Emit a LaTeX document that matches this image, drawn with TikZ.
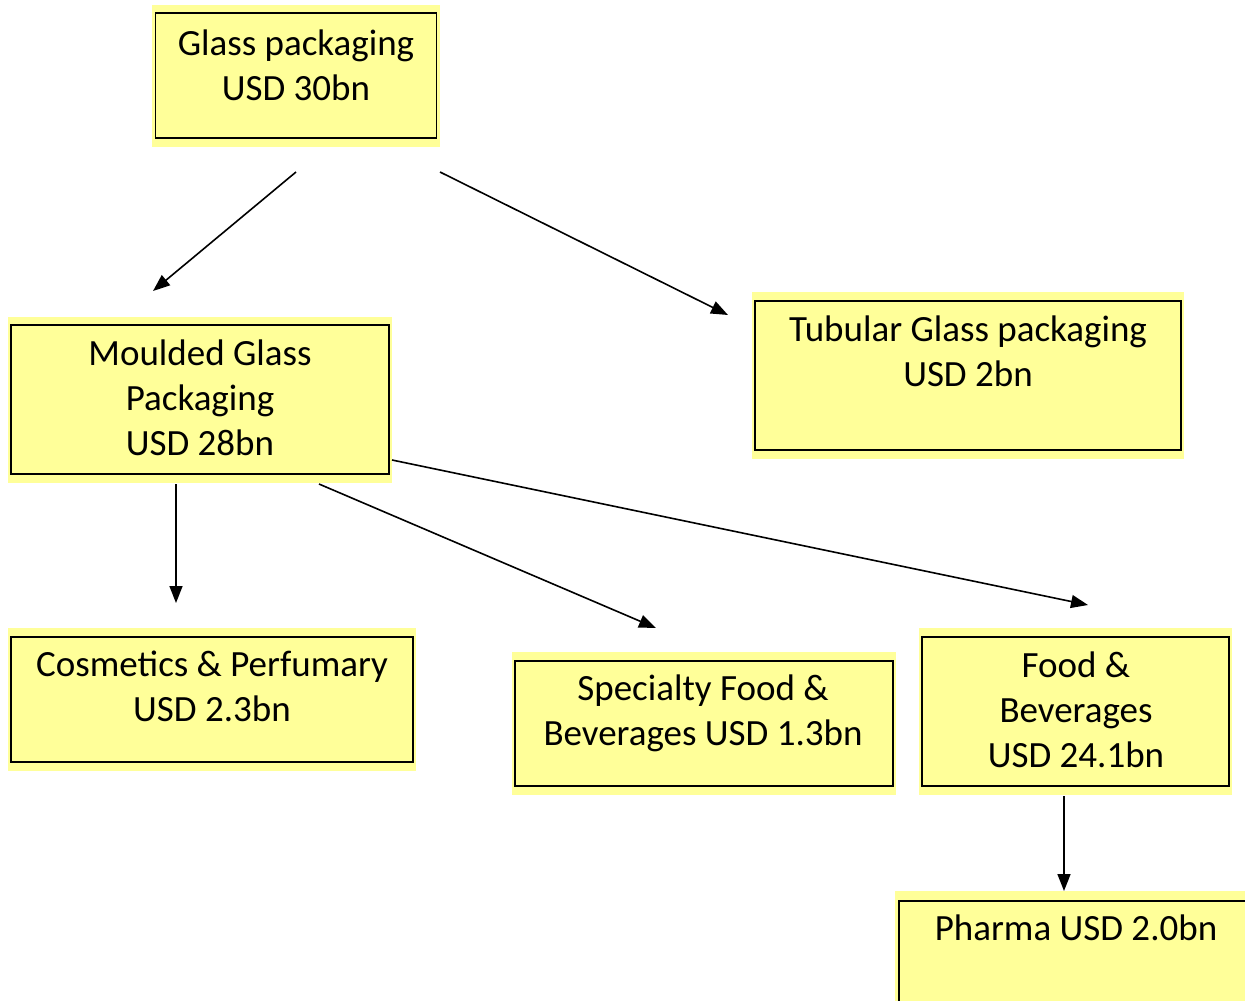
\documentclass[tikz,border=0pt]{standalone}
\usepackage{fontspec}
\setmainfont{Carlito}
\usetikzlibrary{arrows.meta}
\definecolor{boxyellow}{RGB}{255,255,153}
\tikzset{
  outerfill/.style={fill=boxyellow},
  box/.style={draw=black, line width=1.8pt, fill=boxyellow, rectangle, inner sep=0pt},
  txt/.style={align=center, anchor=base, inner sep=0pt, font=\fontsize{37}{45}\selectfont},
  arr/.style={line width=1.6pt, -{Triangle[length=17pt,width=13pt]}}
}
\begin{document}
\begin{tikzpicture}[x=1pt,y=-1pt]
\useasboundingbox (0,0) rectangle (1245,1001);
% outer pale areas
\fill[outerfill] (152,5) rectangle (440,147);
\fill[outerfill] (8,317) rectangle (392,483);
\fill[outerfill] (752,292) rectangle (1184,459);
\fill[outerfill] (8,628) rectangle (416,771);
\fill[outerfill] (512,652) rectangle (896,795);
\fill[outerfill] (919,628) rectangle (1232,795);
\fill[outerfill] (895,891) rectangle (1245,1001);
% boxes
\node[box, minimum width=281pt, minimum height=125pt] (glass) at (296,75.5) {};
\node[box, minimum width=378pt, minimum height=149pt] (moulded) at (200,399.5) {};
\node[box, minimum width=426pt, minimum height=149pt] (tubular) at (968,375.5) {};
\node[box, minimum width=402pt, minimum height=125pt] (cosm) at (212,699.5) {};
\node[box, minimum width=378pt, minimum height=125pt] (spec) at (704,723.5) {};
\node[box, minimum width=307pt, minimum height=149pt] (food) at (1075.5,711.5) {};
\draw[line width=1.8pt, fill=boxyellow] (1250,901) -- (899,901) -- (899,1006);
\coordinate (pharma) at (1072,901);
% texts (anchored at the baseline of the last line)
\node[txt] (tglass) at (296,100) {Glass packaging\\USD 30bn};
\node[txt] (tmoulded) at (200,455) {Moulded Glass\\Packaging\\USD 28bn};
\node[txt] (ttubular) at (968,386) {Tubular Glass packaging\\USD 2bn};
\node[txt] (tcosm) at (212,721) {Cosmetics \& Perfumary\\USD 2.3bn};
\node[txt] (tspec) at (703,745) {Specialty Food \&\\Beverages USD 1.3bn};
\node[txt] (tfood) at (1076,767) {Food \&\\Beverages\\USD 24.1bn};
\node[txt] (tpharma) at (1076,940) {Pharma USD 2.0bn};
% arrow ends
\coordinate (a1s) at (296,172); \coordinate (a1e) at (153,291);
\coordinate (a2s) at (440,172); \coordinate (a2e) at (728,315);
\coordinate (a3s) at (176,484); \coordinate (a3e) at (176,603);
\coordinate (a4s) at (319,484); \coordinate (a4e) at (656,628);
\coordinate (a5s) at (392,460); \coordinate (a5e) at (1088,605);
\coordinate (a6s) at (1064,796); \coordinate (a6e) at (1064,891);
\draw[arr] (a1s) -- (a1e);
\draw[arr] (a2s) -- (a2e);
\draw[arr] (a3s) -- (a3e);
\draw[arr] (a4s) -- (a4e);
\draw[arr] (a5s) -- (a5e);
\draw[arr] (a6s) -- (a6e);
\end{tikzpicture}
\end{document}
